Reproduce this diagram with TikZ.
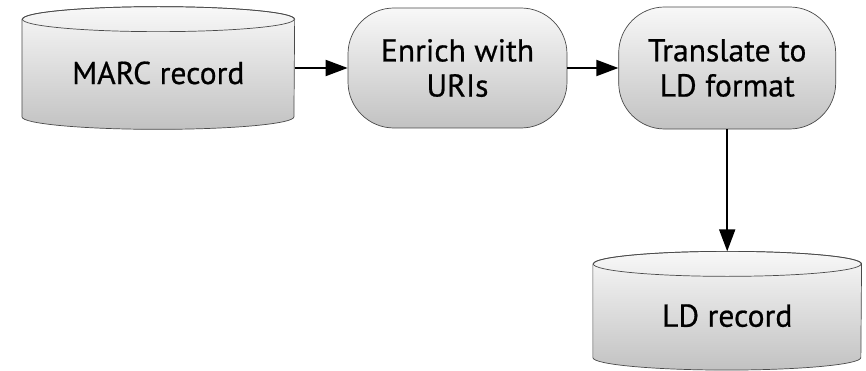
\documentclass[tikz,border=0pt]{standalone}
\usepackage{fontspec}
\setsansfont{PT Sans}[FakeBold=0.6]
\usepackage{xcolor}
\definecolor{BoxEdge}{HTML}{4A4A4A}
\definecolor{BoxTop}{HTML}{F8F8F8}
\definecolor{BoxBottom}{HTML}{C2C2C2}
\usepackage{tikz}
\usetikzlibrary{arrows.meta, positioning, calc, backgrounds}
\tikzset{
  % Box styles
  recordbox/.style={rectangle, minimum width=5.44cm, minimum height=2.44cm, text height=0.64cm, text depth=0pt, font=\sffamily\fontsize{18}{21}\selectfont, align=center},
  processbox/.style={rectangle, rounded corners=0.92cm, draw=BoxEdge, top color=BoxTop, bottom color=BoxBottom, minimum width=4.38cm, minimum height=2.4cm, font=\sffamily\fontsize{18}{20}\selectfont, align=center},
  recordfill/.style={draw=BoxEdge, top color=BoxTop, bottom color=BoxBottom},
  lidline/.style={draw=BoxEdge},
  % Arrow styles
  arrow/.style={-{Triangle[length=4.4mm, width=3.2mm]}, line width=1.1pt, black}
}
% cylinder drawn round a record node: #1 name, #2 half width
\newcommand{\recordcan}[2]{%
  \path[recordfill] ($(#1.north west)+(0,-0.25)$) -- ($(#1.south west)+(0,0.25)$)
    arc[start angle=180, end angle=360, x radius=#2, y radius=0.25cm]
    -- ($(#1.north east)+(0,-0.25)$)
    arc[start angle=0, end angle=180, x radius=#2, y radius=0.25cm] -- cycle;
  \draw[lidline] ($(#1.north)+(0,-0.25)$) ellipse[x radius=#2, y radius=0.25cm];
}

\begin{document}
\begin{tikzpicture}
  \useasboundingbox (0,0) rectangle (17.32,-7.42);
  % Steps
  \node[processbox] (enrich) at (9.15,-1.36) {Enrich with\\URIs};
  \node[processbox, minimum width=4.34cm, minimum height=2.44cm, right=1.02cm of enrich] (translate) {Translate to\\LD format};
  % Records
  \node[recordbox, left=1.06cm of enrich] (marc) {MARC record};
  \node[recordbox, minimum width=5.36cm, minimum height=2.36cm, below=2.44cm of translate] (ld) {LD record};
  \begin{scope}[on background layer]
    \recordcan{marc}{2.72cm}
    \recordcan{ld}{2.68cm}
  \end{scope}

  % Flow
  \draw[arrow] (marc) -- (enrich);
  \draw[arrow] (enrich) -- (translate);
  \draw[arrow] (translate) -- (ld);
\end{tikzpicture}
\end{document}
